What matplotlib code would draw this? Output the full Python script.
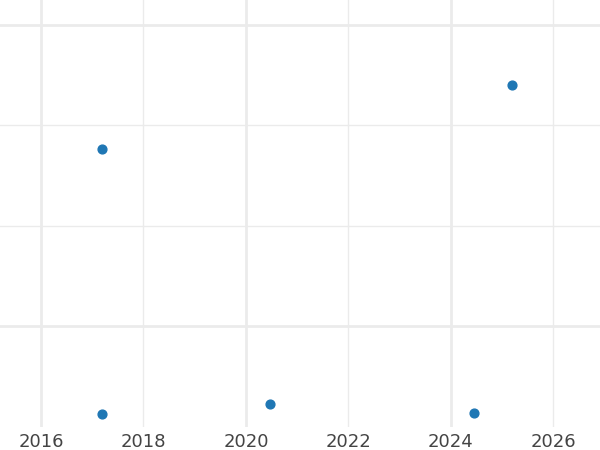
import matplotlib
matplotlib.use("Agg")
import matplotlib.pyplot as plt
from matplotlib.ticker import FixedLocator, NullFormatter

# data (x in years, y in arbitrary units)
years = [2017.19, 2025.19, 2017.19, 2020.47, 2024.46]
values = [176, 240, -88, -78, -87]

tick_years = [2016, 2018, 2020, 2022, 2024, 2026]

fig = plt.figure(figsize=(6, 4.5), dpi=100)
ax = fig.add_axes([0, 23 / 450, 1, 427 / 450])

ax.scatter(years, values, s=40, color="#1f77b4", zorder=3)

ax.set_xlim(2015.2, 2026.91)
ax.set_ylim(-100.7, 324.9)

ax.set_xticks(tick_years)
ax.yaxis.set_major_locator(FixedLocator([0, 300]))
ax.yaxis.set_minor_locator(FixedLocator([100, 200]))
ax.yaxis.set_major_formatter(NullFormatter())
ax.tick_params(axis="both", which="both", length=0, labelsize=13,
               labelcolor="#444444", pad=4)

# gridlines: thick every 4 years / 300 units, thin in between
ax.grid(True, axis="y", which="major", color="#ebebeb", linewidth=2)
ax.grid(True, axis="y", which="minor", color="#ebebeb", linewidth=1)
for x in tick_years:
    ax.axvline(x, color="#ebebeb", linewidth=2 if (x - 2016) % 4 == 0 else 1, zorder=0)
ax.set_axisbelow(True)

for s in ax.spines.values():
    s.set_visible(False)

fig.savefig("out.png", dpi=100)
